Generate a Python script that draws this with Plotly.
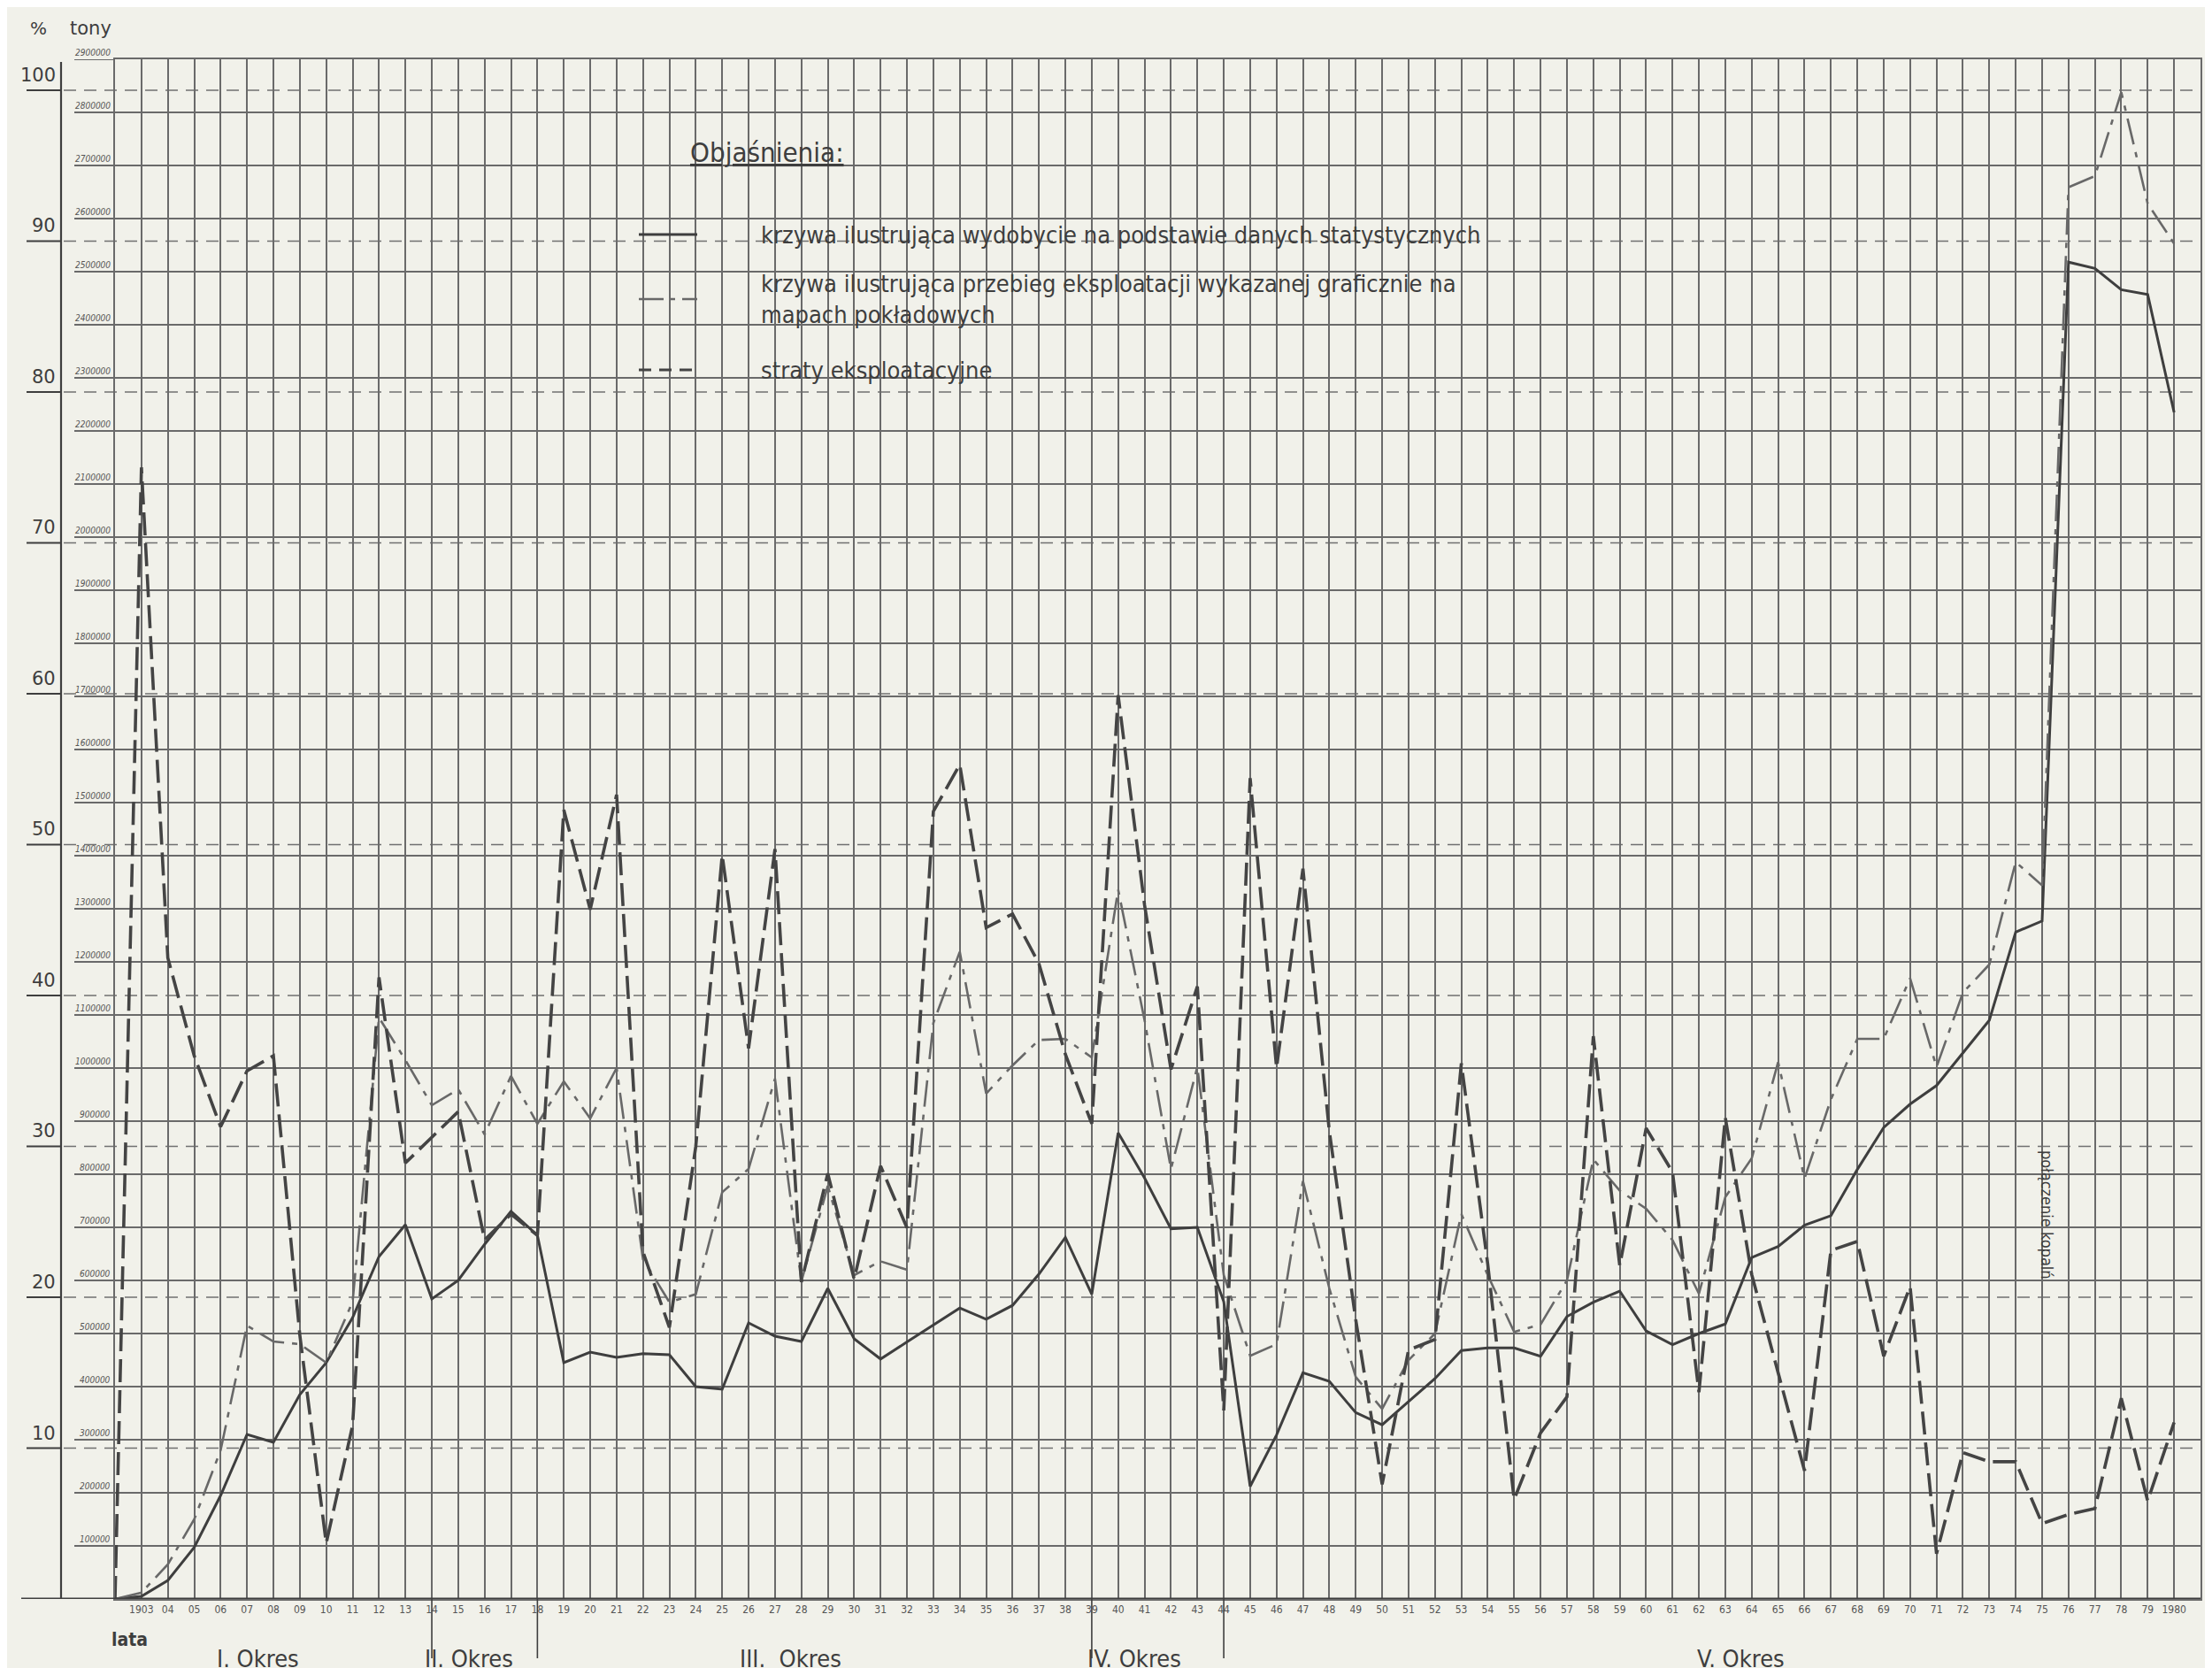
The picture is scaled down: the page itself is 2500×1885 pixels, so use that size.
import plotly.graph_objects as go

# ---------------- data ----------------
years = list(range(1902, 1981))

# extraction from statistics (tons, thousands)
stat_k = [0, 5, 35, 97, 195, 310, 295, 385, 445, 530,
          645, 705, 565, 600, 668, 730, 685, 445, 465, 455,
          462, 460, 400, 395, 520, 495, 485, 585, 490, 452,
          484, 516, 548, 527, 553, 612, 681, 574, 878, 793,
          697, 700, 560, 212, 309, 426, 410, 351, 328, 372,
          415, 468, 473, 473, 457, 532, 559, 580, 505, 479,
          500, 518, 643, 664, 704, 722, 809, 888, 932, 967,
          1028, 1090, 1256, 1277, 2518, 2506, 2466, 2457, 2235]

# exploitation shown graphically on seam maps (tons, thousands)
maps_k = [0, 12, 65, 150, 280, 515, 485, 480, 445, 560,
          1095, 1015, 930, 960, 875, 985, 895, 975, 905, 1000,
          640, 559, 574, 766, 810, 980, 598, 778, 610, 636,
          620, 1085, 1219, 952, 1005, 1053, 1055, 1020, 1336, 1090,
          810, 1002, 610, 458, 480, 787, 585, 418, 358, 450,
          500, 725, 610, 503, 517, 600, 828, 769, 735, 676,
          575, 757, 830, 1011, 792, 941, 1055, 1055, 1169, 1002,
          1142, 1195, 1388, 1344, 2659, 2680, 2838, 2628, 2553]

# exploitation losses (%)
losses_pct = [0, 75, 42.5, 36, 31.3, 35, 36, 17.5, 3.7, 11.5,
              41.2, 28.9, 30.6, 32.3, 23.8, 25.5, 24.1, 52.3, 45.7, 53.3,
              23.0, 18.0, 30.0, 49.3, 36.5, 49.7, 21.0, 28.2, 21.2, 28.7,
              24.6, 52.2, 55.3, 44.5, 45.4, 42.1, 36.1, 31.5, 59.9, 46.0,
              35.1, 40.6, 12.5, 54.4, 35.2, 48.4, 31.0, 18.5, 7.6, 16.5,
              17.2, 35.5, 22.2, 6.6, 11.0, 13.4, 37.3, 22.1, 31.2, 28.3,
              13.7, 31.9, 21.5, 15.1, 8.5, 23.1, 23.7, 16.1, 20.7, 3.0,
              9.7, 9.1, 9.1, 5.0, 5.6, 6.0, 13.3, 6.5, 11.7]

year_tick_vals = list(range(1903, 1981))
year_tick_text = ["1903"] + ["%02d" % (y % 100) for y in range(1904, 1980)] + ["1980"]

ton_ticks = list(range(100000, 2900001, 100000))
ton_labels = [str(v) for v in ton_ticks]

pct_ticks = list(range(10, 101, 10))
pct_labels = [str(v) for v in pct_ticks]

period_bounds = [1914, 1918, 1939, 1944]
period_names = ["I. Okres", "II. Okres", "III.  Okres", "IV. Okres", "V. Okres"]
period_label_x = [1907.4, 1915.4, 1927.6, 1940.6, 1963.6]

legend_texts = [
    "krzywa ilustrująca wydobycie na podstawie danych statystycznych",
    "krzywa ilustrująca przebieg eksploatacji wykazanej graficznie na<br>mapach pokładowych",
    "straty eksploatacyjne",
]

# ---------------- geometry helpers ----------------
W, H = 2500, 1885
L, R, T, B = 122, 21, 59, 86
PW, PH = W - L - R, H - T - B


def px(xpix):
    return (xpix - L) / PW


def py(ypix):
    return (H - B - ypix) / PH


INK = "#3e3e3e"
GRID = "#6a6a6a"
NARROW = "Liberation Sans Narrow, DejaVu Sans Condensed, Arial Narrow, sans-serif"

fig = go.Figure()

fig.add_trace(go.Scatter(x=years, y=[v * 1000 for v in stat_k], mode="lines",
                         line=dict(color=INK, width=3), yaxis="y",
                         name="wydobycie"))
fig.add_trace(go.Scatter(x=years, y=[v * 1000 for v in maps_k], mode="lines",
                         line=dict(color="#686868", width=2.6, dash="30px,9px,6px,9px"),
                         yaxis="y", name="mapy"))
fig.add_trace(go.Scatter(x=years, y=losses_pct, mode="lines",
                         line=dict(color="#444444", width=3.6, dash="26px,9px"),
                         yaxis="y2", name="straty"))

shapes = []
annotations = []

# percent dashed lines (extend left to the % axis)
for p in pct_ticks:
    shapes.append(dict(type="line", xref="paper", yref="y2", x0=px(64), x1=1,
                       y0=p, y1=p, line=dict(color="#707070", width=1.6, dash="14px,9px"),
                       layer="between"))
    shapes.append(dict(type="line", xref="paper", yref="y2", x0=px(22), x1=px(61),
                       y0=p, y1=p, line=dict(color=INK, width=2)))

for p, lab in zip(pct_ticks, pct_labels):
    annotations.append(dict(xref="paper", yref="y2", x=px(57), y=p, text=lab,
                            showarrow=False, xanchor="right", yanchor="bottom",
                            yshift=3, font=dict(family="DejaVu Sans", size=21, color=INK)))

# ton lines extended to the left + labels
for v, lab in zip(ton_ticks, ton_labels):
    shapes.append(dict(type="line", xref="paper", yref="y", x0=px(76), x1=0,
                       y0=v, y1=v, line=dict(color=GRID, width=2)))
    annotations.append(dict(xref="paper", yref="y", x=px(119), y=v, text="<i>" + lab + "</i>",
                            showarrow=False, xanchor="right", yanchor="bottom", yshift=0,
                            font=dict(family="DejaVu Sans Condensed, sans-serif", size=10, color="#555555")))

# % axis vertical line
shapes.append(dict(type="line", xref="paper", yref="paper", x0=px(61), x1=px(61),
                   y0=0, y1=py(62), line=dict(color=INK, width=2.2)))
# baseline
shapes.append(dict(type="line", xref="paper", yref="y", x0=px(16), x1=1,
                   y0=0, y1=0, line=dict(color=INK, width=3.2)))

# period separators
for yb in period_bounds:
    shapes.append(dict(type="line", xref="x", yref="paper", x0=yb, x1=yb,
                       y0=0, y1=py(1866), line=dict(color=INK, width=1.6)))
for name, xp in zip(period_names, period_label_x):
    annotations.append(dict(xref="x", yref="paper", x=xp, y=py(1866), text=name,
                            showarrow=False, xanchor="center", yanchor="middle",
                            font=dict(family=NARROW, size=27, color=INK)))

# header texts
annotations.append(dict(xref="paper", yref="paper", x=px(35), y=py(24), text="%",
                        showarrow=False, xanchor="center", yanchor="middle",
                        font=dict(family="DejaVu Sans", size=20, color=INK)))
annotations.append(dict(xref="paper", yref="paper", x=px(94), y=py(24), text="tony",
                        showarrow=False, xanchor="center", yanchor="middle",
                        font=dict(family="DejaVu Sans", size=21, color=INK)))
annotations.append(dict(xref="paper", yref="paper", x=px(138), y=py(1845), text="<b>lata</b>",
                        showarrow=False, xanchor="center", yanchor="middle",
                        font=dict(family=NARROW, size=21, color=INK)))

# legend
annotations.append(dict(xref="paper", yref="paper", x=px(770), y=py(164),
                        text="<u>Objaśnienia:</u>", showarrow=False, xanchor="left",
                        yanchor="middle",
                        font=dict(family=NARROW, size=31, color=INK)))
leg_y = [257, 330, 410]
leg_styles = [dict(color=INK, width=3),
              dict(color="#686868", width=2.6, dash="28px,8px,5px,8px"),
              dict(color="#444444", width=3, dash="14px,9px")]
for yy, st in zip(leg_y, leg_styles):
    shapes.append(dict(type="line", xref="paper", yref="paper", x0=px(714), x1=px(780),
                       y0=py(yy), y1=py(yy), line=st))
text_y = [257, 330, 410]
for yy, tx in zip(text_y, legend_texts):
    annotations.append(dict(xref="paper", yref="paper", x=px(850), y=py(yy), text=tx,
                            showarrow=False, xanchor="left", yanchor="middle", align="left",
                            font=dict(family=NARROW, size=27, color=INK)))

# merger note
annotations.append(dict(xref="paper", yref="paper", x=px(2306), y=py(1365),
                        text="połączenie kopalń", textangle=90, showarrow=False,
                        xanchor="center", yanchor="middle",
                        font=dict(family=NARROW, size=18, color=INK)))

fig.update_layout(
    width=W, height=H,
    margin=dict(l=L, r=R, t=T, b=B, autoexpand=False),
    paper_bgcolor="#f1f1ea", plot_bgcolor="#f1f1ea",
    showlegend=False,
    shapes=shapes, annotations=annotations,
    xaxis=dict(range=[1902, 1981], tickvals=year_tick_vals, ticktext=year_tick_text,
               showgrid=True, gridcolor=GRID, gridwidth=2, zeroline=False,
               showline=True, linecolor=GRID, linewidth=2, mirror=True,
               ticks="", tickfont=dict(family=NARROW, size=12, color="#555555"),
               minor=dict(showgrid=False)),
    yaxis=dict(range=[0, 2900000], tickvals=ton_ticks, showticklabels=False,
               showgrid=True, gridcolor=GRID, gridwidth=2, zeroline=False,
               showline=True, linecolor=GRID, linewidth=2, mirror=True, ticks=""),
    yaxis2=dict(range=[0, 102.05], overlaying="y", visible=False, showgrid=False),
)

fig.write_html("out.html")
